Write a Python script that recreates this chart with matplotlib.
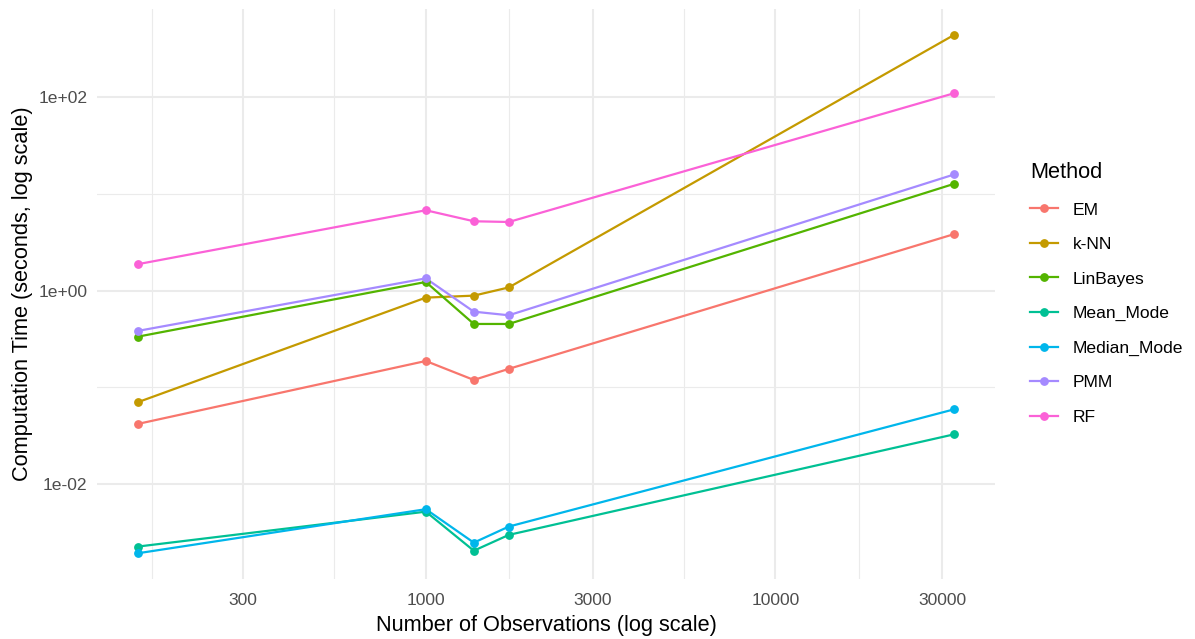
import numpy as np
import matplotlib.pyplot as plt

plt.rcParams['font.family'] = ['Liberation Sans', 'DejaVu Sans']

# dataset sizes (number of observations)
n_obs = [150, 1000, 1372, 1728, 32561]

methods = ['EM', 'k-NN', 'LinBayes', 'Mean_Mode', 'Median_Mode', 'PMM', 'RF']
colors = ['#F8766D', '#C49A00', '#53B400', '#00C094', '#00B6EB', '#A58AFF', '#FB61D7']

# computation time in seconds
em_time = [0.0417, 0.187, 0.119, 0.155, 3.86]
knn_time = [0.070, 0.847, 0.888, 1.08, 447]
linbayes_time = [0.334, 1.23, 0.452, 0.452, 12.8]
mean_mode_time = [0.00224, 0.00515, 0.00203, 0.00296, 0.0326]
median_mode_time = [0.00191, 0.00546, 0.00246, 0.00361, 0.0592]
pmm_time = [0.383, 1.34, 0.606, 0.556, 16.0]
rf_time = [1.88, 6.8, 5.23, 5.14, 111]

times = [em_time, knn_time, linbayes_time, mean_mode_time,
         median_mode_time, pmm_time, rf_time]

x_breaks = [300, 1000, 3000, 10000, 30000]
y_breaks = [1e-2, 1e0, 1e2]
y_labels = ['1e-02', '1e+00', '1e+02']

fig = plt.figure(figsize=(11.95, 6.39), dpi=100)
ax = fig.add_axes([0.0812, 0.0936, 0.7517, 0.8927])

# lines first, then points on top (like geom_line + geom_point)
for name, col, t in zip(methods, colors, times):
    ax.plot(n_obs, t, color=col, lw=1.6, zorder=3)
for name, col, t in zip(methods, colors, times):
    ax.plot(n_obs, t, 'o', color=col, ms=5.3, zorder=4)

ax.set_xscale('log')
ax.set_yscale('log')

# 5% expansion in log space
lx = np.log10(n_obs)
ly = np.log10(np.concatenate([np.array(t) for t in times]))
dx = (lx.max() - lx.min()) * 0.05
dy = (ly.max() - ly.min()) * 0.05

# minor breaks halfway between majors in log space
lxb = np.log10(x_breaks)
x_minor = 10 ** np.concatenate([[lxb[0] - (lxb[1] - lxb[0]) / 2],
                                (lxb[:-1] + lxb[1:]) / 2,
                                [lxb[-1] + (lxb[-1] - lxb[-2]) / 2]])
y_minor = [1e-1, 1e1]

ax.set_xticks(x_breaks)
ax.set_xticklabels([str(v) for v in x_breaks])
ax.set_xticks(x_minor, minor=True)
ax.set_xticklabels([], minor=True)
ax.set_yticks(y_breaks)
ax.set_yticklabels(y_labels)
ax.set_yticks(y_minor, minor=True)
ax.set_yticklabels([], minor=True)
ax.set_xlim(10 ** (lx.min() - dx), 10 ** (lx.max() + dx))
ax.set_ylim(10 ** (ly.min() - dy), 10 ** (ly.max() + dy))

ax.grid(which='major', color='#EBEBEB', lw=1.5, zorder=0)
ax.grid(which='minor', color='#EBEBEB', lw=0.8, zorder=0)
ax.set_axisbelow(True)
ax.tick_params(which='both', length=0, labelsize=12.6, labelcolor='#4D4D4D')
ax.tick_params(axis='x', pad=10)
ax.tick_params(axis='y', pad=7)
for s in ax.spines.values():
    s.set_visible(False)

ax.set_xlabel('Number of Observations (log scale)', fontsize=15.7, labelpad=5)
ax.set_ylabel('Computation Time (seconds, log scale)', fontsize=15.7, labelpad=4)

handles = [plt.Line2D([], [], color=c, lw=1.6, marker='o', ms=5.3) for c in colors]
leg = fig.legend(handles, methods, title='Method', loc='upper left',
                 bbox_to_anchor=(0.855, 0.76), frameon=False,
                 fontsize=12.6, title_fontsize=15.7, handlelength=1.55,
                 handletextpad=0.85, labelspacing=1.1, borderpad=0)
leg._legend_box.align = 'left'

fig.savefig('out.png', dpi=100, facecolor='white')
